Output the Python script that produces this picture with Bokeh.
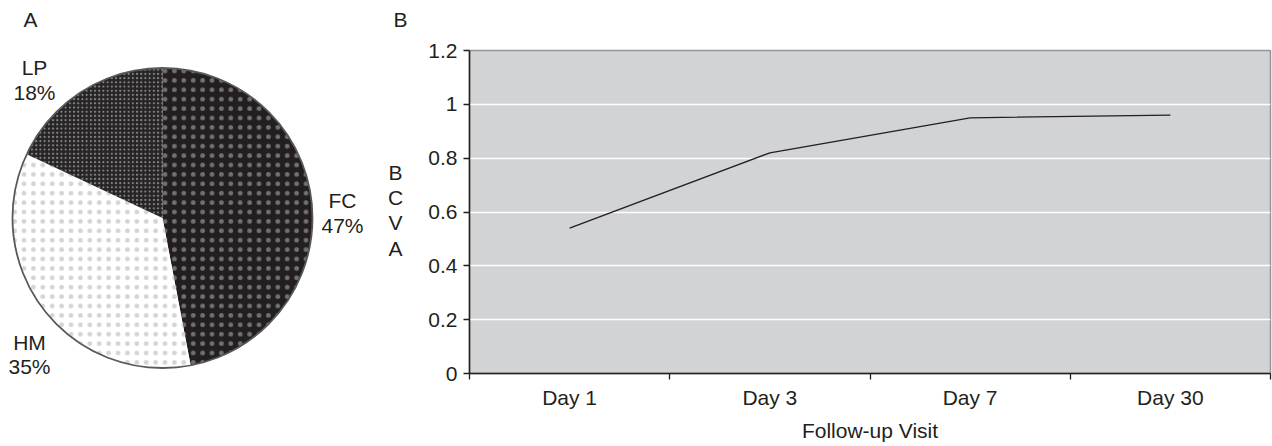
from math import pi
from bokeh.plotting import figure
from bokeh.layouts import row
from bokeh.models import Range1d, FixedTicker, Label
from bokeh.embed import file_html
from bokeh.resources import INLINE

# ---------------- data ----------------
pie_categories = ["FC", "HM", "LP"]
pie_percent = [47, 35, 18]

visits = ["Day 1", "Day 3", "Day 7", "Day 30"]
bcva = [0.54, 0.82, 0.95, 0.96]
y_ticks = [0, 0.2, 0.4, 0.6, 0.8, 1.0, 1.2]
y_title = "BCVA"

# ---------------- styles ----------------
FONT = "Liberation Sans"
TXT = "#231f20"
FS = "21px"

pie_fill = ["#231f20", "#ffffff", "#262425"]
pie_hatch_color = ["#ffffff", "#7a7a7a", "#c8c8c8"]
pie_hatch_alpha = [0.36, 0.32, 0.62]
pie_hatch_scale = [9.4, 9.4, 4.2]

H = 446
W1 = 420
W2 = 1272 - W1
TOP, BOTTOM = 50, 73            # line-chart frame borders (px)
TEXT_SHIFT = 8                  # baseline correction for Label rendering

# ---------------- pie (A) + free texts ----------------
pie = figure(width=W1, height=H, output_backend="svg", toolbar_location=None,
             min_border_left=0, min_border_right=0)
if "frame_align" in pie.properties():
    pie.frame_align = False
    PT, PB = 0, 0
else:
    PT, PB = TOP, BOTTOM
pie.min_border_top = PT
pie.min_border_bottom = PB
pie.x_range = Range1d(0, W1)
pie.y_range = Range1d(0, H - PT - PB)
pie.axis.visible = False
pie.grid.visible = False
pie.outline_line_color = None
pie.background_fill_color = None
pie.border_fill_color = "white"


def Y(page_y):
    """page pixel (from top) -> pie data y"""
    return H - PB - page_y


cx, cy, r = 162, Y(217.5), 150
cum = 0.0
for v, fill, hc, ha, hs in zip(pie_percent, pie_fill, pie_hatch_color, pie_hatch_alpha, pie_hatch_scale):
    start = pi / 2 - 2 * pi * cum / 100
    cum += v
    end = pi / 2 - 2 * pi * cum / 100
    pie.wedge(x=cx, y=cy, radius=r, start_angle=start, end_angle=end, direction="clock",
              fill_color=fill, line_color=None,
              hatch_pattern="dot", hatch_color=hc, hatch_alpha=ha, hatch_scale=hs)
pie.circle(x=[cx], y=[cy], radius=r, fill_color=None, line_color="#58595b", line_width=1.8)


def free_text(t, x, base, align="left"):
    pie.add_layout(Label(x=x, y=Y(base - TEXT_SHIFT), text=t, text_align=align,
                         text_baseline="alphabetic",
                         text_font=FONT, text_font_size=FS, text_color=TXT))


# label positions (layout)
lab_x = [342, 29, 34]
lab_base_name = [208, 350, 75]
lab_base_pct = [233, 374, 100]
for name, pct, lx, b1, b2 in zip(pie_categories, pie_percent, lab_x, lab_base_name, lab_base_pct):
    free_text(name, lx, b1, "center")
    free_text(f"{pct}%", lx, b2, "center")

free_text("A", 23, 27)
free_text("B", 393, 27)
for letter, base in zip(y_title, [180, 205, 230, 256]):
    free_text(letter, 395, base, "center")

# ---------------- line chart (B) ----------------
LEFT = 469 - W1
RIGHT = 2
p = figure(width=W2, height=H, x_range=Range1d(0, len(visits)), y_range=Range1d(0, 1.2),
           output_backend="svg", toolbar_location=None,
           min_border_left=LEFT, min_border_right=RIGHT, min_border_top=TOP, min_border_bottom=BOTTOM)
p.background_fill_color = "#d1d3d4"
p.border_fill_color = "white"
p.outline_line_color = "#939598"
p.outline_line_width = 1.5

xs = [i + 0.5 for i in range(len(visits))]
p.line(xs, bcva, line_color=TXT, line_width=1.3)

xa = p.xaxis[0]
xa.ticker = FixedTicker(ticks=xs, minor_ticks=list(range(len(visits) + 1)))
xa.major_label_overrides = {x: v for x, v in zip(xs, visits)}
xa.major_tick_out = 0
xa.major_tick_in = 0
xa.minor_tick_out = 6
xa.minor_tick_in = 0
xa.minor_tick_line_color = TXT
xa.minor_tick_line_width = 1.3
xa.axis_line_color = TXT
xa.axis_line_width = 1.5
xa.major_label_standoff = 6
xa.major_label_text_font = FONT
xa.major_label_text_font_size = FS
xa.major_label_text_color = TXT
xa.axis_label = "Follow-up Visit"
xa.axis_label_standoff = 7
xa.axis_label_text_font = FONT
xa.axis_label_text_font_size = FS
xa.axis_label_text_font_style = "normal"
xa.axis_label_text_color = TXT

ya = p.yaxis[0]
ya.ticker = FixedTicker(ticks=y_ticks, minor_ticks=[])
ya.major_label_overrides = {0: "0", 1: "1"}
ya.major_tick_out = 6
ya.major_tick_in = 0
ya.major_tick_line_color = TXT
ya.major_tick_line_width = 1.3
ya.minor_tick_out = 0
ya.minor_tick_in = 0
ya.axis_line_color = TXT
ya.axis_line_width = 1.5
ya.major_label_standoff = 6
ya.major_label_text_font = FONT
ya.major_label_text_font_size = FS
ya.major_label_text_color = TXT

p.xgrid.visible = False
p.ygrid.ticker = FixedTicker(ticks=y_ticks)
p.ygrid.grid_line_color = "white"
p.ygrid.grid_line_width = 1.5

layout = row(pie, p)
open("out.html", "w").write(file_html(layout, INLINE))
